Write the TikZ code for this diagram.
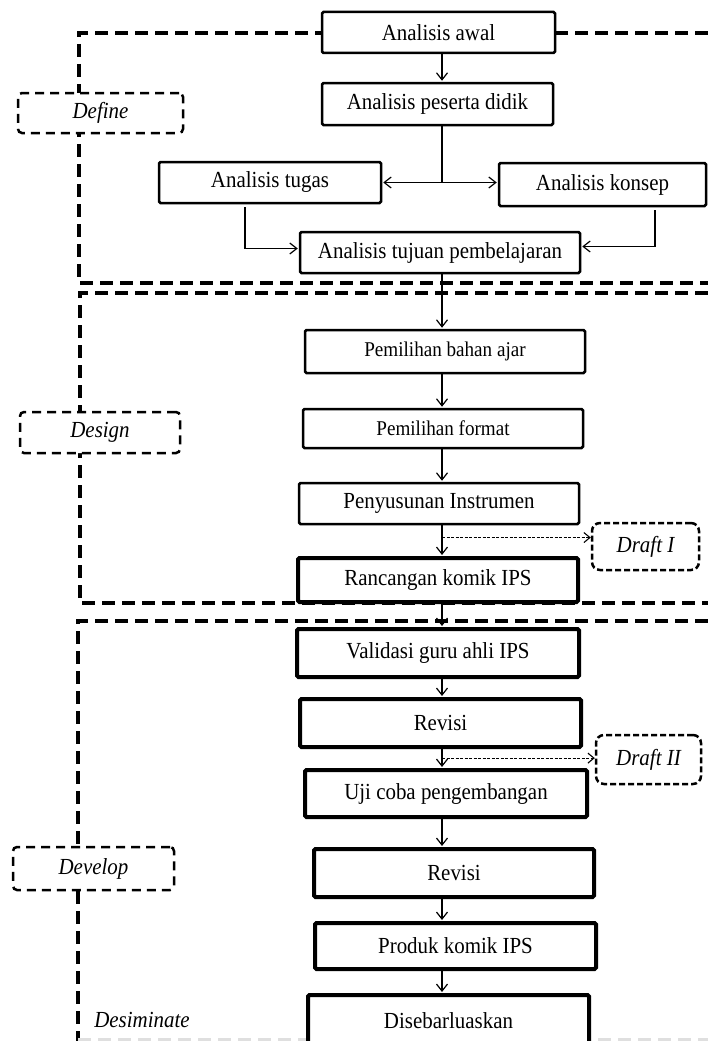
\documentclass[tikz,border=0pt]{standalone}
\usepackage{fontspec}
\setmainfont{Liberation Serif}[FakeStretch=0.91]
\usetikzlibrary{arrows.meta,calc}

\begin{document}
\begin{tikzpicture}[
  x=1pt,y=-1pt,
  >={Straight Barb[length=7pt,width=11pt]},
  every node/.style={font=\fontsize{23}{27}\selectfont},
  stepbox/.style={draw,line width=2.5pt,fill=white,rounded corners=1.5pt,inner sep=0pt},
  heavybox/.style={stepbox,line width=4pt},
  smalltext/.style={font=\fontsize{21}{25}\selectfont},
  phase/.style={draw,line width=2.5pt,dash pattern=on 9pt off 6pt,rounded corners=4pt,fill=white,inner sep=0pt,font=\fontsize{23}{27}\selectfont\itshape},
  draftbox/.style={phase,dash pattern=on 6pt off 3pt,rounded corners=8pt},
  region/.style={line width=3.5pt,dash pattern=on 13pt off 7pt},
  flow/.style={->,line width=1.2pt,shorten >=1pt},
  draftlink/.style={->,line width=1.1pt,dash pattern=on 3pt off 1.5pt,>={Straight Barb[length=6pt,width=10pt]}}
]
  \useasboundingbox (0,0) rectangle (708,1041);

  \draw[region] (708,33) -| (79,283) -- (708,283);
  \draw[region] (708,293) -| (80,603) -- (708,603);
  \draw[region] (708,621) -| (78,1045);
  \draw[region,gray!25] (78,1040) -- (708,1040);

  \node[stepbox,minimum width=233pt,minimum height=41pt] (awal) at (438.5,32.5) {Analisis awal};
  \node[stepbox,minimum width=231pt,minimum height=42pt] (peserta) at (437.5,104) {Analisis peserta didik};
  \node[stepbox,minimum width=222pt,minimum height=41pt] (tugas) at (270,182.5) {Analisis tugas};
  \node[stepbox,minimum width=207pt,minimum height=43pt] (konsep) at (602.5,184.5) {Analisis konsep};
  \node[stepbox,minimum width=280pt,minimum height=41pt] (tujuan) at (440,252.5) {Analisis tujuan pembelajaran};

  \node[stepbox,smalltext,minimum width=280pt,minimum height=43pt] (bahan) at (445,351.5) {Pemilihan bahan ajar};
  \node[stepbox,smalltext,minimum width=280pt,minimum height=39pt] (format) at (443,428.5) {Pemilihan format};
  \node[stepbox,minimum width=280pt,minimum height=41pt] (instrumen) at (439,503.5) {Penyusunan Instrumen};
  \node[heavybox,minimum width=280pt,minimum height=44pt] (rancangan) at (438,580) {Rancangan komik IPS};

  \node[heavybox,minimum width=282pt,minimum height=48pt] (validasi) at (438,653) {Validasi guru ahli IPS};
  \node[heavybox,minimum width=281pt,minimum height=48pt] (revisi) at (440.5,723) {Revisi};
  \node[heavybox,minimum width=282pt,minimum height=47pt] (ujicoba) at (446,793.5) {Uji coba pengembangan};
  \node[heavybox,minimum width=280pt,minimum height=48pt] (revisib) at (454,873) {Revisi};
  \node[heavybox,minimum width=281pt,minimum height=46pt] (produk) at (455.5,946) {Produk komik IPS};
  \node[heavybox,minimum width=281pt,minimum height=52pt] (sebar) at (448.5,1021) {Disebarluaskan};

  \node[phase,minimum width=165pt,minimum height=40pt] (define) at (100.5,113) {Define};
  \node[phase,minimum width=160pt,minimum height=41pt] (design) at (100,432.5) {Design};
  \node[phase,minimum width=161pt,minimum height=43pt] (develop) at (93.5,868.5) {Develop};
  \node[draftbox,minimum width=107pt,minimum height=47pt] (draftI) at (645.5,546.5) {Draft I};
  \node[draftbox,minimum width=105pt,minimum height=49pt] (draftII) at (648.5,759.5) {Draft II};
  \node[font=\fontsize{23}{27}\selectfont\itshape] (desiminate) at (142,1020) {Desiminate};

  \coordinate (spine) at (442,0);
  \draw[flow] (awal.south -| spine) -- (peserta.north -| spine);
  \draw[line width=1.2pt] (peserta.south -| spine) -- (spine |- tugas.east) coordinate (split);
  \draw[flow] (split) -- (tugas.east);
  \draw[flow] (split) -- (split -| konsep.west);
  \draw[flow,shorten <=3pt] ([xshift=-25pt]tugas.south) |- ([yshift=4pt]tujuan.west);
  \draw[flow,shorten <=3pt] ([xshift=52.5pt]konsep.south) |- ([yshift=6pt]tujuan.east);
  \draw[flow] (tujuan.south -| spine) -- (bahan.north -| spine);
  \draw[flow] (bahan.south -| spine) -- (format.north -| spine);
  \draw[flow] (format.south -| spine) -- (instrumen.north -| spine);
  \draw[flow] (instrumen.south -| spine) -- (rancangan.north -| spine);
  \draw[flow] (rancangan.south -| spine) -- (validasi.north -| spine);
  \draw[flow] (validasi.south -| spine) -- (revisi.north -| spine);
  \draw[flow] (revisi.south -| spine) -- (ujicoba.north -| spine);
  \draw[flow] (ujicoba.south -| spine) -- (revisib.north -| spine);
  \draw[flow] (revisib.south -| spine) -- (produk.north -| spine);
  \draw[flow] (produk.south -| spine) -- (sebar.north -| spine);

  \coordinate (dI) at ($(instrumen.south)!0.4!(rancangan.north)$);
  \coordinate (dII) at ($(revisi.south)!0.48!(ujicoba.north)$);
  \draw[draftlink] (dI -| spine) -- (dI -| draftI.west);
  \draw[draftlink] (dII -| spine) -- (dII -| draftII.west);
\end{tikzpicture}
\end{document}
